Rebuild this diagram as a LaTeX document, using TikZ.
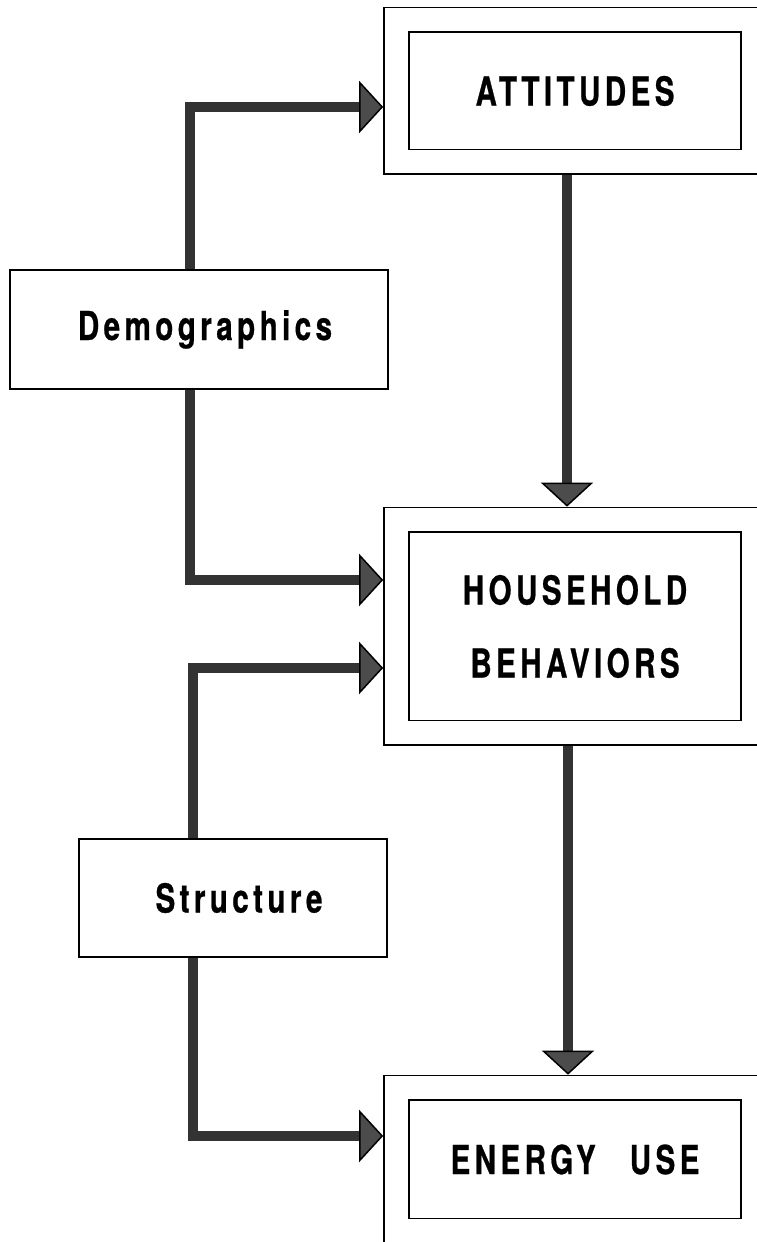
\documentclass[tikz,border=0pt]{standalone}
\usepackage{fontspec}
\setmainfont{TeX Gyre Heros}[FakeStretch=0.74,LetterSpace=11,BoldFeatures={FakeBold=0.6}]
\usetikzlibrary{arrows.meta}

\begin{document}
\begin{tikzpicture}[x=1pt,y=1pt,
    boxfont/.style={font=\bfseries\fontsize{40}{73}\selectfont},
    bigbox/.style={boxfont, draw, line width=1.8pt, double, double distance=23pt,
      outer sep=13.3pt, inner sep=0pt, minimum width=357pt, align=center},
    smallbox/.style={boxfont, draw, line width=1.8pt, inner sep=0pt},
    flow/.style={line width=10pt, draw=black!80,
      -{Triangle[length=24pt,width=52pt,fill=black!70,color=black,line width=1.5pt]}}]
          \useasboundingbox (0,0) rectangle (757,1242);
          \clip (0,0) rectangle (757,1242);

          \node[bigbox, minimum height=142pt] (att) at (575,1151) {ATTITUDES};
          \node[bigbox, minimum height=213pt] (hh) at (575,615.5) {HOUSEHOLD\\BEHAVIORS};
          \node[bigbox, minimum height=143pt] (eu) at (575,82.5) {ENERGY\hspace{34pt}USE};

          \node[smallbox, minimum width=378pt, minimum height=119pt] (demo) at (199,912.5) {\hspace*{12pt}Demographics};
          \node[smallbox, minimum width=308pt, minimum height=118pt] (struc) at (233,344) {\hspace*{12pt}Structure};

          \draw[flow] ([xshift=-9pt]demo.north) |- ([yshift=-16pt]att.west);
          \draw[flow] ([xshift=-9pt]demo.south) |- ([yshift=46.5pt]hh.west);
          \draw[flow] ([xshift=-40pt]struc.north) |- ([yshift=-41.5pt]hh.west);
          \draw[flow] ([xshift=-40pt]struc.south) |- ([yshift=23.5pt]eu.west);
          \draw[flow] ([xshift=-8pt]att.south) -- ([xshift=-8pt]hh.north);
          \draw[flow] ([xshift=-7pt]hh.south) -- ([xshift=-7pt]eu.north);
        \end{tikzpicture}
\end{document}
